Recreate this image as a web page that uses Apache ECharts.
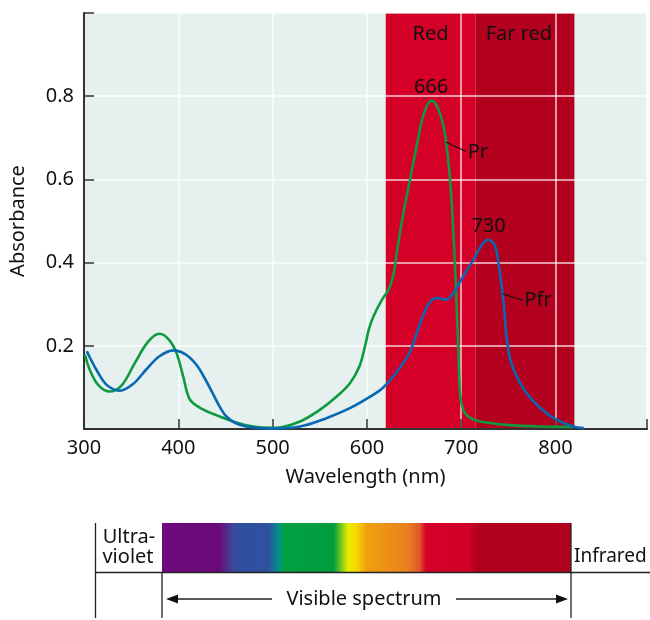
<!DOCTYPE html>
<html>
<head>
<meta charset="utf-8">
<script src="https://cdn.jsdelivr.net/npm/echarts@6/dist/echarts.min.js"></script>
<style>
  html, body { margin: 0; padding: 0; background: #fff; }
  #chart { width: 650px; height: 620px; }
</style>
</head>
<body>
<div id="chart"></div>
<script>
// wavelength (nm), absorbance
const prData = [
  [301, 0.179], [306, 0.143], [315, 0.106], [327, 0.090], [340, 0.105],
  [354, 0.159], [368, 0.210], [380, 0.229], [390, 0.215], [398, 0.183],
  [405, 0.128], [412, 0.072], [423, 0.051], [444, 0.030], [465, 0.013],
  [486, 0.004], [504, 0.003], [529, 0.018], [550, 0.046], [568, 0.078],
  [582, 0.110], [592, 0.150], [598, 0.199], [602, 0.239], [607, 0.271],
  [616, 0.311], [623, 0.335], [628, 0.370], [633, 0.443], [639, 0.523],
  [646, 0.603], [653, 0.683], [660, 0.755], [668, 0.789], [672, 0.785],
  [678, 0.755], [683, 0.707], [688, 0.603], [691, 0.503], [694, 0.360],
  [697, 0.187], [699, 0.080], [703, 0.042], [710, 0.026], [720, 0.018],
  [748, 0.010], [784, 0.006], [820, 0.005]
];
const pfrData = [
  [303, 0.187], [313, 0.143], [324, 0.106], [338, 0.092], [352, 0.108],
  [366, 0.143], [380, 0.175], [395, 0.189], [403, 0.185], [412, 0.172],
  [420, 0.152], [428, 0.122], [436, 0.088], [444, 0.053], [451, 0.030],
  [460, 0.015], [472, 0.006], [497, 0.001], [529, 0.006], [557, 0.026],
  [582, 0.050], [603, 0.077], [617, 0.099], [632, 0.138], [646, 0.187],
  [656, 0.251], [665, 0.299], [674, 0.315], [684, 0.311], [693, 0.331],
  [702, 0.367], [713, 0.407], [722, 0.443], [729, 0.455], [736, 0.439],
  [741, 0.375], [745, 0.303], [748, 0.223], [752, 0.167], [759, 0.126],
  [769, 0.087], [784, 0.050], [800, 0.024], [819, 0.006], [830, 0.002]
];
const xLabels = [300, 400, 500, 600, 700, 800];
const yLabels = [0.2, 0.4, 0.6, 0.8];
const redBand = [620, 715];
const farRedBand = [715, 820];
const prPeak = [668, 0.789, '666'];
const pfrPeak = [729, 0.455, '730'];
const prPointer = [[684, 0.690], [705, 0.667]];
const pfrPointer = [[744, 0.3245], [765, 0.310]];

const font = "'Noto Sans', 'Open Sans', sans-serif";
const fs = 20;

const chart = echarts.init(document.getElementById('chart'));

const spectrum = new echarts.graphic.LinearGradient(0, 0, 1, 0, [
  { offset: 0, color: '#700a7c' },
  { offset: 0.14, color: '#6a0a78' },
  { offset: 0.175, color: '#3a4a9c' },
  { offset: 0.19, color: '#2f4f9f' },
  { offset: 0.26, color: '#2e52a0' },
  { offset: 0.285, color: '#00908a' },
  { offset: 0.30, color: '#00a040' },
  { offset: 0.42, color: '#009c3e' },
  { offset: 0.455, color: '#e8ee00' },
  { offset: 0.475, color: '#f5d800' },
  { offset: 0.50, color: '#f0a010' },
  { offset: 0.60, color: '#e8801e' },
  { offset: 0.63, color: '#e05828' },
  { offset: 0.645, color: '#d6002a' },
  { offset: 0.75, color: '#d00028' },
  { offset: 0.77, color: '#b0001e' },
  { offset: 1, color: '#b2001f' }
]);

const lineStyle = { stroke: '#222', lineWidth: 1.3 };

chart.setOption({
  animation: false,
  textStyle: { fontFamily: font },
  grid: {
    left: 83, right: 3, top: 13, bottom: 191,
    show: true, backgroundColor: '#e6f0ee', borderWidth: 0
  },
  xAxis: {
    type: 'value', min: 300, max: 897, interval: 100, z: 2,
    name: 'Wavelength (nm)', nameLocation: 'middle', nameGap: 38,
    nameTextStyle: { fontSize: fs, color: '#111', fontFamily: font },
    axisLine: { lineStyle: { color: '#333', width: 2 } },
    axisTick: { inside: true, length: 10, lineStyle: { color: '#333', width: 1.5 } },
    axisLabel: {
      fontSize: fs, color: '#111', margin: 9,
      formatter: v => xLabels.includes(v) ? String(v) : ''
    },
    splitLine: { show: true, lineStyle: { color: 'rgba(255,255,255,0.8)', width: 1.5 } }
  },
  yAxis: {
    type: 'value', min: 0, max: 1, interval: 0.2, z: 2,
    name: 'Absorbance', nameLocation: 'middle', nameGap: 56, nameRotate: 90,
    nameTextStyle: { fontSize: fs, color: '#111', fontFamily: font },
    axisLine: { show: true, lineStyle: { color: '#333', width: 2 } },
    axisTick: { show: true, inside: true, length: 10, lineStyle: { color: '#333', width: 1.5 } },
    axisLabel: {
      fontSize: fs, color: '#111', margin: 10,
      formatter: v => yLabels.some(t => Math.abs(t - v) < 1e-6) ? v.toFixed(1) : ''
    },
    splitLine: { show: true, lineStyle: { color: 'rgba(255,255,255,0.8)', width: 1.5 } }
  },
  series: [
    {
      type: 'line', data: [], z: 1, silent: true,
      markArea: {
        silent: true,
        label: { show: true, position: 'insideTop', distance: 11, fontSize: fs, color: '#111', fontFamily: font },
        data: [
          [{ xAxis: redBand[0], name: 'Red', itemStyle: { color: '#d50027' } }, { xAxis: redBand[1] }],
          [{ xAxis: farRedBand[0], name: 'Far red', itemStyle: { color: '#b3001e' },
             label: { offset: [-6, 0] } }, { xAxis: farRedBand[1] }]
        ]
      }
    },
    {
      name: 'Pr', type: 'line', data: prData, z: 3,
      smooth: 0.35, symbol: 'none',
      lineStyle: { color: '#0e9a3e', width: 2.6 },
      markPoint: {
        symbol: 'circle', symbolSize: 0,
        label: { show: true, position: 'top', distance: 3, fontSize: fs, color: '#111', fontFamily: font, formatter: p => p.name },
        data: [{ coord: [prPeak[0], prPeak[1]], name: prPeak[2] }]
      },
      markLine: {
        silent: true, symbol: 'none',
        lineStyle: { color: '#111', width: 1.2, type: 'solid' },
        label: { show: true, position: 'end', distance: 2, fontSize: fs, color: '#111', fontFamily: font, formatter: 'Pr' },
        data: [[{ coord: prPointer[0] }, { coord: prPointer[1] }]]
      }
    },
    {
      name: 'Pfr', type: 'line', data: pfrData, z: 3,
      smooth: 0.35, symbol: 'none',
      lineStyle: { color: '#0868b4', width: 2.6 },
      markPoint: {
        symbol: 'circle', symbolSize: 0,
        label: { show: true, position: 'top', distance: 3, fontSize: fs, color: '#111', fontFamily: font, formatter: p => p.name },
        data: [{ coord: [pfrPeak[0], pfrPeak[1]], name: pfrPeak[2] }]
      },
      markLine: {
        silent: true, symbol: 'none',
        lineStyle: { color: '#111', width: 1.2, type: 'solid' },
        label: { show: true, position: 'end', distance: 2, fontSize: fs, color: '#111', fontFamily: font, formatter: 'Pfr' },
        data: [[{ coord: pfrPointer[0] }, { coord: pfrPointer[1] }]]
      }
    }
  ],
  graphic: [
    { type: 'rect', shape: { x: 162, y: 523, width: 409, height: 49 }, style: { fill: spectrum } },
    { type: 'line', shape: { x1: 95.5, y1: 523, x2: 95.5, y2: 618 }, style: lineStyle },
    { type: 'line', shape: { x1: 95.5, y1: 572.5, x2: 650, y2: 572.5 }, style: lineStyle },
    { type: 'line', shape: { x1: 162, y1: 572, x2: 162, y2: 618 }, style: lineStyle },
    { type: 'line', shape: { x1: 571, y1: 523, x2: 571, y2: 618 }, style: lineStyle },
    { type: 'text', x: 129, y: 537, style: { text: 'Ultra-', font: fs + 'px ' + font, fill: '#111', textAlign: 'center', textVerticalAlign: 'middle' } },
    { type: 'text', x: 128, y: 557, style: { text: 'violet', font: fs + 'px ' + font, fill: '#111', textAlign: 'center', textVerticalAlign: 'middle' } },
    { type: 'text', x: 574, y: 557, style: { text: 'Infrared', font: '19px ' + font, fill: '#111', textAlign: 'left', textVerticalAlign: 'middle' } },
    { type: 'text', x: 364, y: 599, style: { text: 'Visible spectrum', font: fs + 'px ' + font, fill: '#111', textAlign: 'center', textVerticalAlign: 'middle' } },
    { type: 'line', shape: { x1: 172, y1: 599, x2: 272, y2: 599 }, style: lineStyle },
    { type: 'line', shape: { x1: 456, y1: 599, x2: 560, y2: 599 }, style: lineStyle },
    { type: 'polygon', shape: { points: [[166, 599], [178, 594.5], [178, 603.5]] }, style: { fill: '#111' } },
    { type: 'polygon', shape: { points: [[568, 599], [556, 594.5], [556, 603.5]] }, style: { fill: '#111' } }
  ]
});

window.addEventListener('resize', () => chart.resize());
</script>
</body>
</html>
